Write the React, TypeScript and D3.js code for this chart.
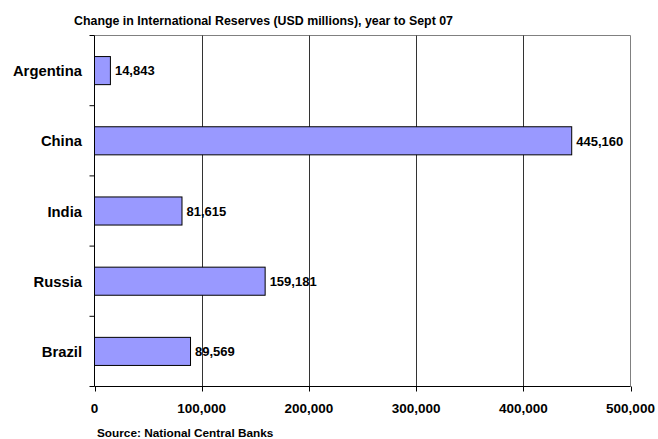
import React from "react";
import * as d3 from "d3";

const categories = ["Argentina", "China", "India", "Russia", "Brazil"];
const values = [14843, 445160, 81615, 159181, 89569];
const xTicks = [0, 100000, 200000, 300000, 400000, 500000];
const title = "Change in International Reserves (USD millions), year to Sept 07";
const source = "Source: National Central Banks";

export default function App() {
  const W = 658, H = 439;
  const left = 94.5, right = 630.5, top = 35.5, bottom = 386.5;
  const x = d3.scaleLinear().domain([0, 500000]).range([left, right]);
  const y = d3.scaleBand().domain(categories).range([top, bottom]).paddingInner(0.6).paddingOuter(0.3);
  const band = (bottom - top) / categories.length;
  const fmt = d3.format(",");
  const font = "Arial, 'Liberation Sans', sans-serif";
  return (
    <svg width={W} height={H} style={{ position: "absolute", left: 0, top: 0 }} fontFamily={font}>
      <rect x={0} y={0} width={W} height={H} fill="#fff" />
      <text x={74} y={24.5} fontSize={13} fontWeight="bold" textLength={379} lengthAdjust="spacingAndGlyphs">{title}</text>
      <line x1={left} x2={right} y1={top} y2={top} stroke="#808080" />
      <line x1={right} x2={right} y1={top} y2={bottom} stroke="#808080" />
      {xTicks.slice(1, -1).map((t) => (
        <line key={t} x1={Math.round(x(t)) + 0.5} x2={Math.round(x(t)) + 0.5} y1={top} y2={bottom} stroke="#333" />
      ))}
      {categories.map((c, i) => (
        <g key={c}>
          <rect x={x(0)} y={y(c)} width={x(values[i]) - x(0)} height={y.bandwidth()} fill="#9999FF" stroke="#000" />
          <text x={x(values[i]) + 4.5} y={y(c)! + y.bandwidth() / 2 + 4.7} fontSize={13} fontWeight="bold">{fmt(values[i])}</text>
          <text x={82} y={y(c)! + y.bandwidth() / 2 + 5.5} textAnchor="end" fontSize={14.8} fontWeight="bold">{c}</text>
        </g>
      ))}
      <line x1={left} x2={left} y1={top} y2={bottom} stroke="#000" />
      {d3.range(categories.length + 1).map((i) => (
        <line key={i} x1={left - 5} x2={left} y1={top + i * band} y2={top + i * band} stroke="#000" />
      ))}
      <line x1={left} x2={right} y1={bottom} y2={bottom} stroke="#000" />
      {xTicks.map((t) => (
        <g key={t}>
          <line x1={Math.round(x(t)) + 0.5} x2={Math.round(x(t)) + 0.5} y1={bottom} y2={bottom + 5} stroke="#000" />
          <text x={x(t)} y={412.5} textAnchor="middle" fontSize={13.5} fontWeight="bold">{fmt(t)}</text>
        </g>
      ))}
      <text x={97} y={436.5} fontSize={11.8} fontWeight="bold">{source}</text>
    </svg>
  );
}
